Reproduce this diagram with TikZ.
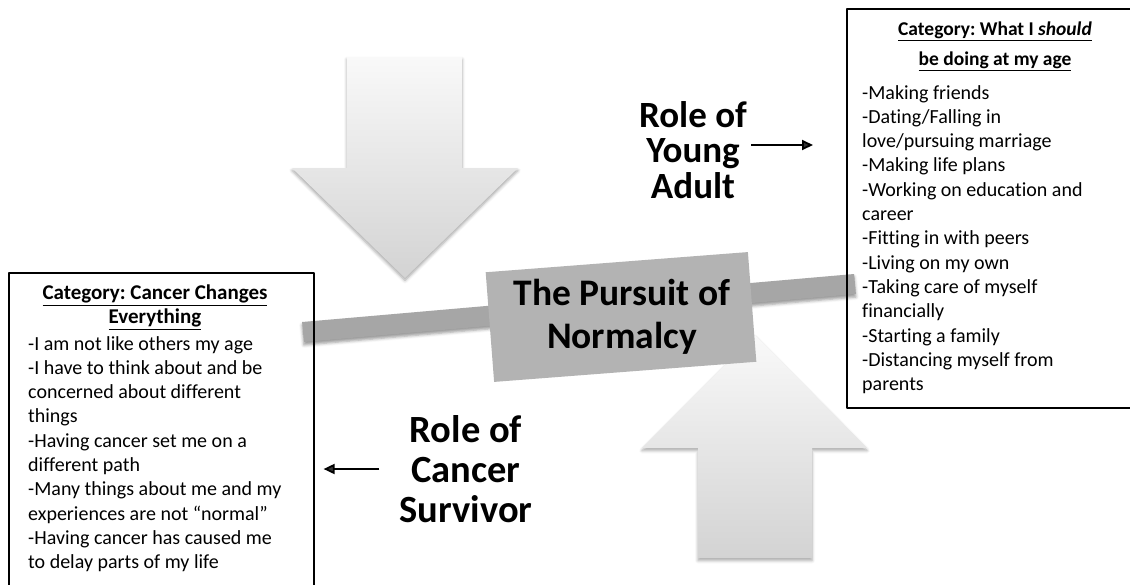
\documentclass[tikz,border=0pt]{standalone}
\usepackage{fontspec}
\setmainfont{Carlito}[Ligatures=NoCommon]
\frenchspacing
\usetikzlibrary{arrows.meta,shadows.blur,calc}
\definecolor{boxgray}{HTML}{B3B3B3}
\definecolor{bargray}{HTML}{A6A6A6}
\definecolor{arrowtop}{HTML}{F9F9F9}
\definecolor{arrowbot}{HTML}{D3D3D3}

\begin{document}
\begin{tikzpicture}[x=1pt, y=-1pt, line join=round,
		blockarrow/.style={top color=arrowtop, bottom color=arrowbot, blur shadow={shadow xshift=0pt, shadow yshift=-2.5pt, shadow blur radius=3pt, shadow opacity=35}},
		catbox/.style={draw=black, line width=1.6pt, anchor=north west, inner sep=0pt},
		headtext/.style={align=center, inner sep=0pt, font=\fontsize{#1}{24}\selectfont\bfseries},
		listtext/.style={align=left, anchor=north west, inner sep=0pt, font=\fontsize{20}{24.3}\selectfont},
		rolelabel/.style 2 args={align=center, inner sep=0pt, font=\fontsize{#1}{#2}\selectfont\bfseries},
		rolearrow/.style={-{Triangle[length=11pt,width=10pt]}, line width=1.8pt}]
	\useasboundingbox (0,0) rectangle (1130,584);
	\clip (0,0) rectangle (1130,584);
	
	% 1. Hai mũi tên khối lớn (xuống và lên)
	\path[blockarrow] (347,57) -- (462,57) -- (462,168) -- (518,168) -- (405,278) -- (292,168) -- (347,168) -- cycle;
	\path[blockarrow] (755,335) -- (867,448) -- (812,448) -- (812,558) -- (698,558) -- (698,448) -- (642,448) -- cycle;
	
	% 2. Thanh ngang nghiêng
	\path[fill=bargray, blur shadow={shadow xshift=0pt, shadow yshift=-3pt, shadow blur radius=3pt, shadow opacity=40}]
		(302.1,322) -- (854.1,274) -- (855.9,294) -- (303.9,342) -- cycle;
	
	% 3. Hai khung danh mục
	\node[catbox, minimum width=305pt, minimum height=340pt] (leftbox) at (8,272) {};
	\node[catbox, minimum width=300pt, minimum height=399pt] (rightbox) at (846,8) {};
	
	\node[headtext=21, anchor=north] (lefthead) at (155,285) {\underline{Category: Cancer Changes}\\\underline{Everything}};
	\node[listtext] (leftlist) at (28,336) {-I am not like others my age\\
		-I have to think about and be\\
		concerned about different\\
		things\\
		-Having cancer set me on a\\
		different path\\
		-Many things about me and my\\
		experiences are not “normal”\\
		-Having cancer has caused me\\
		to delay parts of my life};
	
	\node[headtext=19.5, anchor=north] (righthead) at (995,22) {\underline{Category: What I \textit{should}}\\[6pt]\underline{be doing at my age}};
	\node[listtext] (rightlist) at (862,85) {-Making friends\\
		-Dating/Falling in\\
		love/pursuing marriage\\
		-Making life plans\\
		-Working on education and\\
		career\\
		-Fitting in with peers\\
		-Living on my own\\
		-Taking care of myself\\
		financially\\
		-Starting a family\\
		-Distancing myself from\\
		parents};
	
	% 4. Khối trung tâm
	\node[fill=boxgray, rotate=4.4, minimum width=263pt, minimum height=110pt, inner sep=0pt] (normalcy) at (621,317) {};
	\node[align=center, inner sep=0pt, font=\fontsize{37.5}{43}\selectfont\bfseries] (normalcytext) at ([xshift=1pt]normalcy.center) {The Pursuit of\\Normalcy};
	
	% 5. Nhãn vai trò và mũi tên chỉ
	\node[rolelabel={37}{35.5}] (young) at (693,150) {Role of\\Young\\Adult};
	\node[rolelabel={38.5}{40}] (survivor) at (466,469) {Role of\\Cancer\\Survivor};
	
	\draw[rolearrow, shorten >=33pt] ($(young.east)+(4,-5)$) -- ($(young.east -| rightbox.west)+(0,-5)$);
	\draw[rolearrow, shorten >=9pt] ($(survivor.west)+(-20,0)$) -- (survivor.west -| leftbox.east);
\end{tikzpicture}
\end{document}
